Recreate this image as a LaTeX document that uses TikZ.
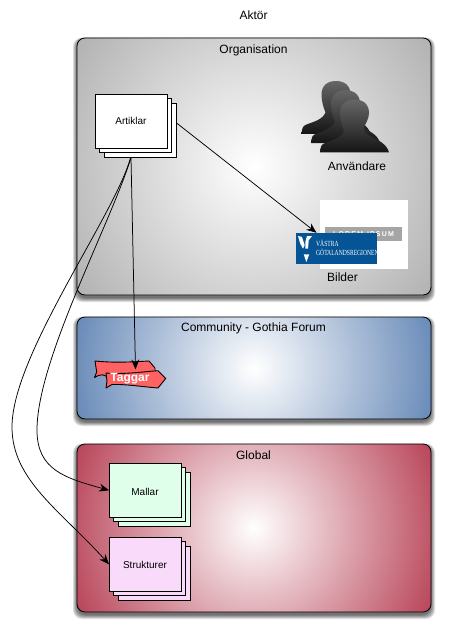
\documentclass[tikz,border=0pt]{standalone}
\usepackage{fontspec}
\setmainfont{Liberation Sans}
\newfontfamily\logofont{Liberation Serif}
\usetikzlibrary{arrows.meta}
\definecolor{greyout}{RGB}{178,178,178}
\definecolor{blueout}{RGB}{104,138,184}
\definecolor{redout}{RGB}{184,68,88}
\definecolor{mallarfill}{RGB}{224,255,234}
\definecolor{strukfill}{RGB}{250,218,250}
\definecolor{tagfill}{RGB}{255,98,98}
\definecolor{logoblue}{RGB}{4,84,150}
\definecolor{barshade}{RGB}{165,165,165}
\pgfdeclareradialshading{greyrad}{\pgfpoint{0bp}{0bp}}{color(0bp)=(white); color(25bp)=(greyout); color(50bp)=(greyout)}
\pgfdeclareradialshading{bluerad}{\pgfpoint{0bp}{0bp}}{color(0bp)=(white); color(25bp)=(blueout); color(50bp)=(blueout)}
\pgfdeclareradialshading{redrad}{\pgfpoint{0bp}{0bp}}{color(0bp)=(white); color(25bp)=(redout); color(50bp)=(redout)}
\pgfdeclareverticalshading{persongrad}{100bp}{color(0bp)=(black!92); color(25bp)=(black!92); color(75bp)=(black!60); color(100bp)=(black!60)}
\tikzset{
  x=1pt,y=-1pt,
  lab/.style={font=\fontsize{12}{14}\selectfont,inner sep=0pt},
  smalllab/.style={font=\fontsize{10}{11}\selectfont,inner sep=0pt},
  panel/.style={draw=black,line width=.8pt,rounded corners=8pt,minimum width=354pt,inner sep=0pt},
  sheet/.style={draw=black,line width=.9pt,minimum width=72pt,minimum height=54pt,inner sep=0pt},
  conn/.style={draw=black,line width=.75pt,-{Stealth[length=10pt,width=8pt]}},
  person/.style={shading=persongrad},
}
\newcommand{\panelshadow}[4]{%
  \foreach \g in {5,4,3,2,1,0}{%
    \fill[black,opacity=.12,rounded corners=9pt] (#1-\g*.8,#2-\g*.3+1) rectangle (#3+\g*.8,#4+\g*.8+3);}}
\newcommand{\persona}[2]{%
  \shade[person,shift={(#1,#2)}] (320,152.5) .. controls (320.5,147) and (321,144.5) .. (325,143)
    .. controls (333,140) and (341,138) .. (344,131)
    .. controls (342,126) and (340,120) .. (340,113)
    .. controls (340,104) and (346,99.5) .. (354.5,99.5)
    .. controls (363,99.5) and (369,104) .. (369,113)
    .. controls (369,119) and (365.5,123) .. (364,128)
    .. controls (364,132) and (366,134) .. (370,136)
    .. controls (378,140) and (387,144) .. (389,152.5) -- cycle;}
\begin{document}
\begin{tikzpicture}
\useasboundingbox (0,0) rectangle (452,636);
\fill[white] (0,0) rectangle (452,636);

\node[lab] (aktor) at (253.5,15.5) {Aktör};

% panels
\panelshadow{77}{38}{431}{295}
\panelshadow{77}{317}{431}{419}
\panelshadow{77}{444}{431}{612}
\node[panel,fill=greyout,minimum height=257pt,
  path picture={\shade[shading=greyrad] (path picture bounding box.center) circle (218pt);}] (org) at (254,166.5) {};
\node[panel,fill=blueout,minimum height=102pt,
  path picture={\shade[shading=bluerad] (path picture bounding box.center) circle (184pt);}] (comm) at (254,368) {};
\node[panel,fill=redout,minimum height=168pt,
  path picture={\shade[shading=redrad] (path picture bounding box.center) circle (196pt);}] (glob) at (254,528) {};

\node[lab] (orglab) at (253.5,50) {Organisation};
\node[lab] (commlab) at (253.5,328.5) {Community - Gothia Forum};
\node[lab] (globlab) at (253.5,455.5) {Global};

% Artiklar stack
\node[sheet,fill=white] (artC) at (140.5,130.3) {};
\node[sheet,fill=white] (artB) at (135.7,125.3) {};
\node[sheet,fill=white] (artA) at (131.5,121.3) {};
\node[smalllab] (artlab) at (131,121) {Artiklar};

% Mallar stack
\node[sheet,fill=mallarfill] (malC) at (154.5,499.3) {};
\node[sheet,fill=mallarfill] (malB) at (149.7,494.3) {};
\node[sheet,fill=mallarfill] (malA) at (145.5,490.3) {};
\node[smalllab] (mallab) at (145,491.5) {Mallar};

% Strukturer stack
\node[sheet,fill=strukfill] (strC) at (154.5,573.3) {};
\node[sheet,fill=strukfill] (strB) at (149.7,568.3) {};
\node[sheet,fill=strukfill] (strA) at (145.5,564.3) {};
\node[smalllab] (strlab) at (145,564.5) {Strukturer};

% people
\persona{-18.5}{-18.5}
\persona{-9}{-9.3}
\persona{0}{0}
\node[lab] (anv) at (357,166) {Användare};

% images
\node[fill=white,minimum width=88pt,minimum height=69pt,inner sep=0pt] (img) at (364,234.5) {};
\node[fill=barshade,minimum width=77pt,minimum height=14pt,inner sep=0pt,text=white,
  font=\bfseries\fontsize{7}{8}\selectfont] (bar) at (363.5,234) {L\,O\,R\,E\,M\ \ I\,P\,S\,U\,M};
\node[fill=logoblue,minimum width=81pt,minimum height=31pt,inner sep=0pt] (logo) at (336.5,248.5) {};
\fill[white] (298,236) -- (302,237) -- (304.7,245.3) -- (303,248.7) -- (300.3,243.7) -- cycle;
\fill[white] (307,236) -- (312,236) -- (308.7,240.3) -- (308,248.7) -- (305.3,248.7) -- (305.3,242) -- cycle;
\fill[white] (303.7,254.3) -- (309.3,254.3) -- (306.3,262) -- cycle;
\node[text=white,font=\logofont\fontsize{7.8}{8.8}\selectfont,xscale=.72,align=left,inner sep=0pt,anchor=west] (logotext) at (316,247.5) {VÄSTRA\\GÖTALANDSREGIONEN};
\node[lab] (bild) at (342.5,277) {Bilder};

% Taggar
\draw[fill=tagfill,line width=.9pt,line join=round] (95,361) .. controls (115,363) and (130,362) .. (149,361) -- (155,368) -- (155,380) -- (110,380)
  .. controls (105,373) and (100,374) .. (94.5,377.5) -- (96.7,372) -- cycle;
\draw[fill=tagfill,line width=.9pt,line join=round] (106,373) .. controls (125,374.5) and (140,372) .. (158,370.7) -- (165.7,378.5) -- (158,388)
  .. controls (140,386.5) and (125,384) .. (112,384.5) -- (106,388) -- (107,381) -- cycle;
\node[font=\bfseries\fontsize{12}{14}\selectfont,text=white,inner sep=0pt] (tag) at (130,379) {Taggar};

% connectors
\coordinate (tagtip) at (135.5,369.5);
\draw[conn] ([yshift=7pt]artC.east) -- ([xshift=-20pt]logo.north);
\draw[conn] ([xshift=-9.5pt]artC.south) -- (tagtip);
\draw[conn] ([xshift=-9.5pt]artC.south) .. controls (110,225) and (37,360) .. (37,430)
   .. controls (37,470) and (65,478) .. (malA.west);
\draw[conn] ([xshift=-10pt]artC.south) .. controls (115,215) and (12,355) .. (12,427)
   .. controls (12,480) and (60,510) .. (strA.west);
\end{tikzpicture}
\end{document}
